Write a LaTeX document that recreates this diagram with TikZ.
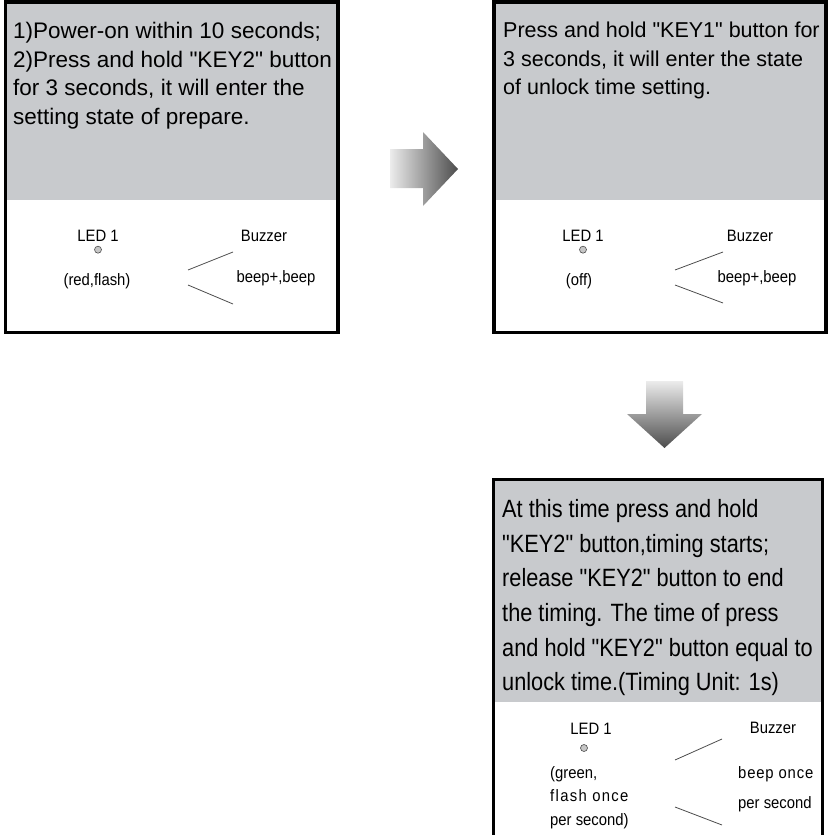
\documentclass[tikz,border=0pt]{standalone}
\usepackage{fontspec}
\setmainfont{Liberation Sans}
\newfontfamily\boxfont{Liberation Sans}
\newfontfamily\tallfont[FakeStretch=0.87]{Liberation Sans}
\newfontfamily\smallfont[FakeStretch=0.9]{Liberation Sans}
\newcommand{\qmark}{\symbol{34}}
\usetikzlibrary{positioning}
\definecolor{panelgray}{RGB}{200,202,205}
\tikzstyle{every picture} = [x=1pt, y=-1pt, node distance=4pt]
\tikzstyle{frame} = [draw=black, line width=3.5pt]
\tikzstyle{big text} = [inner sep=0pt, anchor=north west, align=left, font=\boxfont\fontsize{22.5}{28.5}\selectfont]
\tikzstyle{small text} = [inner sep=0pt, font=\smallfont\fontsize{16.5}{18}\selectfont]
\tikzstyle{led} = [circle, draw=black!70, fill=gray!45, minimum size=7pt, inner sep=0pt, line width=0.6pt]
\tikzstyle{fan} = [draw=black!70, line width=0.8pt]

\begin{document}
\begin{tikzpicture}
    \useasboundingbox (0,0) rectangle (828,835);

    % step 1
    \fill[panelgray] (5.5,2) rectangle (338,200);
    \draw[frame] (5.5,2) rectangle (338,332.5);
    \node (step 1) [big text] at (13,22) {1)Power-on within 10 seconds;\\2)Press and hold \qmark KEY2\qmark{} button\\for 3 seconds, it will enter the\\setting state of prepare.};
    \node (led label 1) [small text] at (98,236) {LED 1};
    \node (led 1) [led, below=4pt of led label 1] {};
    \node (led state 1) [small text] at (97,281) {(red,flash)};
    \node (buzzer 1) [small text] at (264,236) {Buzzer};
    \node (beep 1) [small text] at (276,278) {beep+,beep};
    \draw[fan] (188,270) -- (233,252);
    \draw[fan] (188,285) -- (233,304);

    % arrow right
    \shade[left color=gray!15, right color=black!70] (390,149) -- (423,149) -- (423,132) -- (458,169) -- (423,206) -- (423,188) -- (390,188) -- cycle;

    % step 2
    \fill[panelgray] (494,2) rectangle (826,200);
    \draw[frame] (494,2) rectangle (826,332.5);
    \node (step 2) [big text, font=\boxfont\fontsize{21.5}{28.5}\selectfont] at (503,22) {Press and hold \qmark KEY1\qmark{} button for\\3 seconds, it will enter the state\\of unlock time setting.};
    \node (led label 2) [small text] at (583,236) {LED 1};
    \node (led 2) [led, below=4pt of led label 2] {};
    \node (led state 2) [small text] at (579,281) {(off)};
    \node (buzzer 2) [small text] at (750,236) {Buzzer};
    \node (beep 2) [small text] at (757,278) {beep+,beep};
    \draw[fan] (675,270) -- (723,252);
    \draw[fan] (675,285) -- (723,303);

    % arrow down
    \shade[top color=gray!15, bottom color=black!70] (646,381) -- (683,381) -- (683,414) -- (702,414) -- (664.5,448) -- (627,414) -- (646,414) -- cycle;

    % step 3
    \fill[panelgray] (493,479) rectangle (822,702);
    \draw[frame, line width=3pt] (493,835) -- (493,479) -- (822,479) -- (822,835);
    \node (step 3) [big text, font=\tallfont\fontsize{25}{34.7}\selectfont] at (502,499) {At this time press and hold\\\qmark KEY2\qmark{} button,timing starts;\\release \qmark KEY2\qmark{} button to end\\the timing. The time of press\\and hold \qmark KEY2\qmark{} button equal to\\unlock time.(Timing Unit: 1s)};
    \node (led label 3) [small text] at (591,729) {LED 1};
    \node (led 3) [led] at (584,748) {};
    \node (led state 3) [small text, anchor=north west, align=left, font=\smallfont\fontsize{16.5}{23.5}\selectfont] at (550,766) {(green,\\{\addfontfeature{LetterSpace=8}flash once}\\per second)};
    \node (buzzer 3) [small text] at (773,728) {Buzzer};
    \node (beep 3) [small text, anchor=north west, align=left, font=\smallfont\fontsize{16.5}{30}\selectfont] at (738,766) {{\addfontfeature{LetterSpace=5}beep once}\\per second};
    \draw[fan] (675,760) -- (722,739);
    \draw[fan] (675,807) -- (722,825);
\end{tikzpicture}
\end{document}
